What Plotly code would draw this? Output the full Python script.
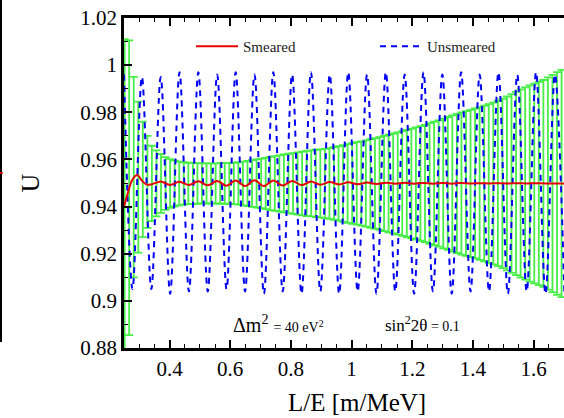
import plotly.graph_objects as go

# Oscillation probability U versus L/E for dm^2 = 40 eV^2, sin^2(2theta) = 0.1

# Unsmeared curve: turning points (L/E in m/MeV, U)
unsmeared_x = [0.250, 0.278, 0.309, 0.340, 0.371, 0.402, 0.433, 0.464, 0.495, 0.526,
               0.557, 0.588, 0.618, 0.649, 0.680, 0.711, 0.742, 0.773, 0.804, 0.835,
               0.866, 0.897, 0.928, 0.959, 0.989, 1.020, 1.051, 1.082, 1.113, 1.144,
               1.175, 1.206, 1.237, 1.268, 1.299, 1.330, 1.361, 1.392, 1.422, 1.453,
               1.484, 1.515, 1.546, 1.577, 1.608, 1.639, 1.670, 1.701]
unsmeared_u = [0.996, 0.905, 0.995, 0.905, 0.995, 0.903, 0.997, 0.904, 0.997, 0.904,
               0.996, 0.905, 0.997, 0.904, 0.996, 0.903, 0.997, 0.904, 0.996, 0.903,
               0.997, 0.904, 0.996, 0.903, 0.997, 0.904, 0.996, 0.903, 0.997, 0.904,
               0.996, 0.903, 0.997, 0.904, 0.996, 0.903, 0.997, 0.904, 0.996, 0.904,
               0.997, 0.903, 0.996, 0.904, 0.997, 0.903, 0.996, 0.904]

# Smeared curve
smeared_x = [0.250, 0.262, 0.278, 0.294, 0.309, 0.325, 0.340, 0.371, 0.402, 0.433,
             0.464, 0.495, 0.526, 0.557, 0.588, 0.618, 0.649, 0.680, 0.711, 0.742,
             0.773, 0.804, 0.835, 0.866, 0.897, 0.928, 0.959, 0.989, 1.020, 1.051,
             1.082, 1.113, 1.144, 1.175, 1.206, 1.237, 1.268, 1.299, 1.330, 1.361,
             1.392, 1.422, 1.453, 1.484, 1.515, 1.546, 1.577, 1.608, 1.639, 1.670,
             1.701]
smeared_u = [0.9400, 0.9455, 0.9515, 0.9534, 0.9510, 0.9493, 0.9494, 0.9506, 0.9492, 0.9505,
             0.9491, 0.9507, 0.9490, 0.9509, 0.9488, 0.9511, 0.9487, 0.9512, 0.9487, 0.9511,
             0.9489, 0.9509, 0.9491, 0.9506, 0.9493, 0.9504, 0.9494, 0.9503, 0.9495, 0.9502,
             0.9496, 0.9501, 0.9497, 0.9501, 0.9497, 0.9500, 0.9497, 0.9500, 0.9497, 0.9500,
             0.9498, 0.9499, 0.9498, 0.9499, 0.9498, 0.9499, 0.9498, 0.9499, 0.9498, 0.9498,
             0.9498]

# Binned expectation with statistical errors
bin_x = [0.252, 0.267, 0.282, 0.297, 0.312, 0.327, 0.342, 0.357, 0.372, 0.387,
         0.402, 0.417, 0.432, 0.447, 0.462, 0.477, 0.492, 0.507, 0.522, 0.537,
         0.552, 0.567, 0.582, 0.597, 0.612, 0.627, 0.642, 0.657, 0.672, 0.687,
         0.702, 0.717, 0.732, 0.747, 0.762, 0.777, 0.792, 0.807, 0.822, 0.837,
         0.852, 0.867, 0.882, 0.897, 0.912, 0.927, 0.942, 0.957, 0.972, 0.987,
         1.002, 1.017, 1.032, 1.047, 1.062, 1.077, 1.092, 1.107, 1.122, 1.137,
         1.152, 1.167, 1.182, 1.197, 1.212, 1.227, 1.242, 1.257, 1.272, 1.287,
         1.302, 1.317, 1.332, 1.347, 1.362, 1.377, 1.392, 1.407, 1.422, 1.437,
         1.452, 1.467, 1.482, 1.497, 1.512, 1.527, 1.542, 1.557, 1.572, 1.587,
         1.602, 1.617, 1.632, 1.647, 1.662, 1.677, 1.692]
bin_u = [0.9450, 0.9480, 0.9525, 0.9525, 0.9515, 0.9505, 0.9498, 0.9498, 0.9498, 0.9498,
         0.9498, 0.9498, 0.9498, 0.9498, 0.9498, 0.9498, 0.9498, 0.9498, 0.9498, 0.9498,
         0.9498, 0.9498, 0.9498, 0.9498, 0.9498, 0.9498, 0.9498, 0.9498, 0.9498, 0.9498,
         0.9498, 0.9498, 0.9498, 0.9498, 0.9498, 0.9498, 0.9498, 0.9498, 0.9498, 0.9498,
         0.9498, 0.9498, 0.9498, 0.9498, 0.9498, 0.9498, 0.9498, 0.9498, 0.9498, 0.9498,
         0.9498, 0.9498, 0.9498, 0.9498, 0.9498, 0.9498, 0.9498, 0.9498, 0.9498, 0.9498,
         0.9498, 0.9498, 0.9498, 0.9498, 0.9498, 0.9498, 0.9498, 0.9498, 0.9498, 0.9498,
         0.9498, 0.9498, 0.9498, 0.9498, 0.9498, 0.9498, 0.9498, 0.9498, 0.9498, 0.9498,
         0.9498, 0.9498, 0.9498, 0.9498, 0.9498, 0.9498, 0.9498, 0.9498, 0.9498, 0.9498,
         0.9498, 0.9498, 0.9498, 0.9498, 0.9498, 0.9498, 0.9498]
bin_err = [0.0660, 0.0625, 0.0425, 0.0320, 0.0245, 0.0195, 0.0160, 0.0140, 0.0125, 0.0112,
           0.0103, 0.0097, 0.0093, 0.0090, 0.0088, 0.0087, 0.0086, 0.0085, 0.0085, 0.0085,
           0.0085, 0.0086, 0.0086, 0.0087, 0.0088, 0.0090, 0.0093, 0.0096, 0.0099, 0.0102,
           0.0105, 0.0109, 0.0113, 0.0116, 0.0119, 0.0123, 0.0126, 0.0129, 0.0132, 0.0135,
           0.0138, 0.0140, 0.0143, 0.0145, 0.0147, 0.0150, 0.0154, 0.0158, 0.0163, 0.0167,
           0.0171, 0.0175, 0.0179, 0.0183, 0.0188, 0.0192, 0.0197, 0.0202, 0.0207, 0.0212,
           0.0217, 0.0222, 0.0227, 0.0233, 0.0238, 0.0243, 0.0249, 0.0256, 0.0262, 0.0268,
           0.0275, 0.0282, 0.0289, 0.0295, 0.0302, 0.0307, 0.0312, 0.0318, 0.0324, 0.0330,
           0.0337, 0.0343, 0.0351, 0.0359, 0.0369, 0.0379, 0.0389, 0.0399, 0.0408, 0.0416,
           0.0424, 0.0431, 0.0439, 0.0450, 0.0461, 0.0472, 0.0482]

y_ticks = [0.88, 0.90, 0.92, 0.94, 0.96, 0.98, 1.00, 1.02]
y_labels = ["0.88", "0.9", "0.92", "0.94", "0.96", "0.98", "1", "1.02"]
x_ticks = [0.4, 0.6, 0.8, 1.0, 1.2, 1.4, 1.6]
x_labels = ["0.4", "0.6", "0.8", "1", "1.2", "1.4", "1.6"]

SERIF = "Liberation Serif, Times New Roman, serif"
W, H = 564, 418
ML, MR, MT, MB = 124, 0, 18, 70
PW, PH = W - ML - MR, H - MT - MB


def px_x(p):
    return (p - ML) / PW


def px_y(p):
    return (H - MB - p) / PH


fig = go.Figure()

# error bars of the binned expectation (drawn first, underneath the curves)
fig.add_trace(go.Scatter(
    x=bin_x, y=bin_u, mode="markers",
    marker=dict(size=1, opacity=0),
    error_y=dict(type="data", array=bin_err, symmetric=True,
                 color="rgb(70,238,70)", thickness=1.8, width=4),
    showlegend=False, hoverinfo="skip",
))

fig.add_trace(go.Scatter(
    x=unsmeared_x, y=unsmeared_u, mode="lines", name="Unsmeared",
    line=dict(color="rgb(0,0,245)", width=2, dash="6px,5px",
              shape="spline", smoothing=1.0),
))

fig.add_trace(go.Scatter(
    x=smeared_x, y=smeared_u, mode="lines", name="Smeared",
    line=dict(color="rgb(230,0,0)", width=2, shape="spline", smoothing=1.0),
))

fig.update_layout(
    width=W, height=H,
    margin=dict(l=ML, r=MR, t=MT, b=MB, autoexpand=False),
    paper_bgcolor="white", plot_bgcolor="white",
    font=dict(family=SERIF, color="black"),
    legend=dict(orientation="h", x=px_x(191), y=px_y(30), xanchor="left", yanchor="top",
                font=dict(family=SERIF, size=15, color="#222"),
                bgcolor="rgba(0,0,0,0)", itemwidth=42,
                entrywidth=127, entrywidthmode="pixels",
                traceorder="reversed"),
    xaxis=dict(range=[0.25, 1.70], showgrid=False, zeroline=False,
               showline=True, linecolor="black", linewidth=2.5, mirror="allticks",
               ticks="inside", ticklen=8, tickwidth=1.5, tickcolor="black",
               tickvals=x_ticks, ticktext=x_labels,
               tickfont=dict(family=SERIF, size=21, color="black"),
               minor=dict(dtick=0.05, tick0=0, ticks="inside", ticklen=4,
                          tickwidth=1, tickcolor="black")),
    yaxis=dict(range=[0.88, 1.02], showgrid=False, zeroline=False,
               showline=True, linecolor="black", linewidth=2.5, mirror=False,
               ticks="inside", ticklen=8, tickwidth=1.5, tickcolor="black",
               tickvals=y_ticks, ticktext=y_labels,
               tickfont=dict(family=SERIF, size=21, color="black"),
               minor=dict(dtick=0.01, tick0=0, ticks="inside", ticklen=4,
                          tickwidth=1, tickcolor="black"),
               title=dict(text="U", font=dict(family=SERIF, size=26), standoff=34)),
)

fig.add_annotation(text="L/E [m/MeV]", xref="paper", yref="paper",
                   x=px_x(357), y=px_y(402), xanchor="center", yanchor="middle",
                   showarrow=False, font=dict(family=SERIF, size=25, color="black"))
fig.add_annotation(
    text="Δm<sup>2</sup> <span style='font-size:14px'>= 40 eV<sup>2</sup></span>",
    xref="paper", yref="paper", x=px_x(231), y=px_y(324),
    xanchor="left", yanchor="middle", showarrow=False,
    font=dict(family=SERIF, size=20, color="black"))
fig.add_annotation(
    text="sin<sup>2</sup>2θ<span style='font-size:14px'> = 0.1</span>",
    xref="paper", yref="paper", x=px_x(383), y=px_y(324),
    xanchor="left", yanchor="middle", showarrow=False,
    font=dict(family=SERIF, size=17, color="black"))

# frame edge of the neighbouring panel at the far left
fig.add_shape(type="line", xref="paper", yref="paper",
              x0=px_x(1), x1=px_x(1), y0=px_y(342), y1=px_y(0),
              line=dict(color="black", width=2))
fig.add_shape(type="line", xref="paper", yref="paper",
              x0=px_x(0), x1=px_x(3), y0=px_y(173), y1=px_y(173),
              line=dict(color="red", width=1.5))

fig.write_html("out.html")
